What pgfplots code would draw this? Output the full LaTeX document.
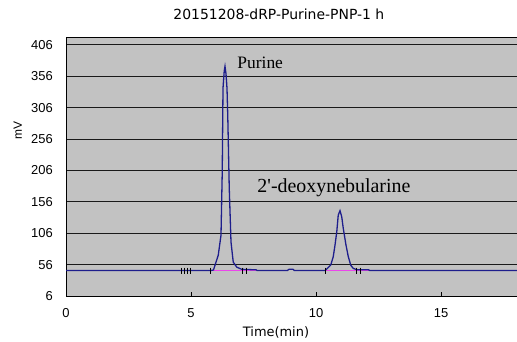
\documentclass[border=0pt]{standalone}
\usepackage{fontspec}
\setmainfont{Liberation Sans}
\newfontfamily\titlefont{DejaVu Sans}
\newfontfamily\peakfont{Liberation Serif}
\usepackage{pgfplots}
\pgfplotsset{compat=1.18}

\definecolor{plotbg}{RGB}{194,194,194}
\definecolor{trace}{RGB}{30,30,140}
\definecolor{intbase}{RGB}{235,70,235}

\begin{document}
\begin{tikzpicture}
\begin{axis}[
  scale only axis,
  width=451bp, height=259bp,
  xmin=0, xmax=18.04,
  ymin=6, ymax=418.7,
  xtick={0,5,10,15},
  ytick={6,56,106,156,206,256,306,356,406},
  xtick pos=bottom, ytick pos=left,
  tick align=inside,
  major tick length=4bp,
  xtick style={black, line width=0.8bp},
  ytick style={draw=none},
  /pgf/number format/assume math mode=true,
  ticklabel style={font=\fontsize{13}{13}\selectfont},
  xticklabel style={anchor=north, inner sep=0pt, yshift=-12bp},
  yticklabel style={anchor=east, inner sep=0pt, xshift=-13bp},
  axis background/.style={fill=plotbg},
  axis line style={black, line width=0.8bp},
  ymajorgrids=true,
  major grid style={black!90, line width=1bp},
  title={20151208-dRP-Purine-PNP-1 h},
  title style={font=\titlefont\fontsize{14}{14}\selectfont,
    at={(rel axis cs:0.472,1)}, anchor=base, yshift=12bp, inner sep=0pt},
  xlabel={Time(min)},
  xlabel style={font=\titlefont\fontsize{13}{13}\selectfont,
    at={(rel axis cs:0.4656,0)}, anchor=base, yshift=-40bp, inner sep=0pt},
  ylabel={mV},
  ylabel style={font=\fontsize{12}{12}\selectfont,
    at={(rel axis cs:-0.0976,0.64)}, anchor=south, inner sep=0pt},
]
% integration baselines
\addplot[intbase, line width=1.2bp] coordinates {(5.79,47) (7.6,47)};
\addplot[intbase, line width=1.2bp] coordinates {(10.36,47) (12.1,47)};

% detector trace
\addplot[trace, line width=1.3bp] coordinates {
  (0,46.5) (4.5,46.5) (5.79,46.5) (5.90,47.5) (5.96,55) (6.09,71)
  (6.20,103) (6.25,204) (6.28,337) (6.33,365) (6.36,372) (6.40,360)
  (6.44,337) (6.47,294) (6.53,178) (6.60,92) (6.69,60) (6.83,52)
  (7.03,48.5) (7.40,48) (7.60,47.8) (7.65,46.5)
  (8.85,46.5) (8.92,48.5) (9.08,48.5) (9.14,46.5)
  (10.36,46.5) (10.43,49) (10.59,55.4) (10.69,68.6) (10.76,87)
  (10.83,108) (10.89,135) (10.96,142) (11.03,132) (11.09,114)
  (11.20,87) (11.29,69) (11.39,55) (11.49,50) (11.63,48)
  (12.10,47.8) (12.16,46.5) (18.04,46.5)
};

% integration event markers
\addplot[only marks, mark=|, mark size=3bp, mark options={black, line width=0.8bp}]
  coordinates {(4.60,46.5) (4.72,46.5) (4.85,46.5) (4.98,46.5) (5.79,46.5)
               (7.07,46.5) (7.20,46.5) (10.36,46.5) (11.63,46.5) (11.76,46.5)};

% peak names
\node[anchor=base west, inner sep=0pt, font=\peakfont\fontsize{17.5}{17.5}\selectfont]
  at (axis cs:6.85,367.8) {Purine};
\node[anchor=base west, inner sep=0pt, font=\peakfont\fontsize{20}{20}\selectfont]
  at (axis cs:7.65,171.3) {2\textquotesingle-deoxynebularine};
\end{axis}
\pgfresetboundingbox
\path[use as bounding box] ([shift={(-66bp,-46bp)}]current axis.south west)
  rectangle ([shift={(0bp,37bp)}]current axis.north east);
\end{tikzpicture}
\end{document}
